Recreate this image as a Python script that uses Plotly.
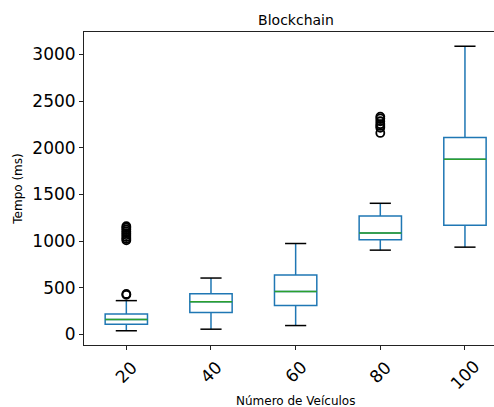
import plotly.graph_objects as go

# Response time per fleet size (ms)
vehicles = ["20", "40", "60", "80", "100"]
q1 = [110, 235, 310, 1014, 1171]
median = [160, 352, 462, 1089, 1879]
q3 = [221, 438, 637, 1270, 2111]
lower_whisker = [40, 57, 96, 904, 936]
upper_whisker = [363, 605, 975, 1406, 3089]
outliers = [
    [425, 435, 1010, 1025, 1045, 1065, 1085, 1105, 1125, 1145, 1160],
    [],
    [],
    [2160, 2215, 2235, 2255, 2285, 2315, 2335],
    [],
]

positions = list(range(1, len(vehicles) + 1))
box_w = 0.5
cap_w = box_w * 0.5

BLUE = "#1f77b4"
GREEN = "#2ca02c"
FONT = "DejaVu Sans"

fig = go.Figure()

fig.add_trace(go.Box(
    x=positions, q1=q1, median=median, q3=q3,
    lowerfence=lower_whisker, upperfence=upper_whisker,
    width=box_w, whiskerwidth=0.0,
    fillcolor="rgba(0,0,0,0)",
    line=dict(color=BLUE, width=1.5),
    boxpoints=False, showlegend=False, hoverinfo="skip",
))

# green median lines
mx, my = [], []
for p, m in zip(positions, median):
    mx += [p - box_w / 2, p + box_w / 2, None]
    my += [m, m, None]
fig.add_trace(go.Scatter(x=mx, y=my, mode="lines",
                         line=dict(color=GREEN, width=1.5),
                         showlegend=False, hoverinfo="skip"))

# black whisker caps
cx, cy = [], []
for p, lo, hi in zip(positions, lower_whisker, upper_whisker):
    for v in (lo, hi):
        cx += [p - cap_w / 2, p + cap_w / 2, None]
        cy += [v, v, None]
fig.add_trace(go.Scatter(x=cx, y=cy, mode="lines",
                         line=dict(color="black", width=1.5),
                         showlegend=False, hoverinfo="skip"))

# fliers
fx, fy = [], []
for p, vals in zip(positions, outliers):
    fx += [p] * len(vals)
    fy += vals
fig.add_trace(go.Scatter(x=fx, y=fy, mode="markers",
                         marker=dict(symbol="circle-open", size=8, color="black",
                                     line=dict(width=1.8, color="black")),
                         showlegend=False, hoverinfo="skip"))

all_vals = lower_whisker + upper_whisker + [v for vals in outliers for v in vals]
lo, hi = min(all_vals), max(all_vals)
pad = 0.05 * (hi - lo)

# rotated category labels centred under each tick
annotations = [
    dict(x=p, y=0, xref="x", yref="paper", text=t, showarrow=False,
         textangle=-45, xanchor="center", yanchor="top", yshift=-9,
         font=dict(size=17, family=FONT, color="black"))
    for p, t in zip(positions, vehicles)
]
annotations.append(dict(
    x=3, y=0, xref="x", yref="paper", text="Número de Veículos", showarrow=False,
    xanchor="center", yanchor="middle", yshift=-56,
    font=dict(size=12, family=FONT, color="black")))

fig.update_layout(
    width=494, height=407,
    margin=dict(l=84, r=0, t=32, b=62),
    paper_bgcolor="white", plot_bgcolor="white",
    font=dict(family=FONT, color="black"),
    title=dict(text="Blockchain", x=296 / 494, xanchor="center", y=0.95, yanchor="middle",
               font=dict(size=14, family=FONT, color="black")),
    annotations=annotations,
    xaxis=dict(
        range=[0.5, 5.343],
        tickmode="array", tickvals=positions, showticklabels=False,
        ticks="outside", ticklen=4, tickcolor="#222",
        showline=True, mirror=True, linecolor="#222", linewidth=1,
        showgrid=False, zeroline=False,
    ),
    yaxis=dict(
        range=[lo - pad, hi + pad],
        tickmode="array", tickvals=[0, 500, 1000, 1500, 2000, 2500, 3000],
        tickfont=dict(size=17),
        ticks="outside", ticklen=4, tickcolor="#222",
        showline=True, mirror=False, linecolor="#222", linewidth=1,
        showgrid=False, zeroline=False,
        title=dict(text="Tempo (ms)", font=dict(size=12), standoff=7),
    ),
)

fig.write_html("out.html")
